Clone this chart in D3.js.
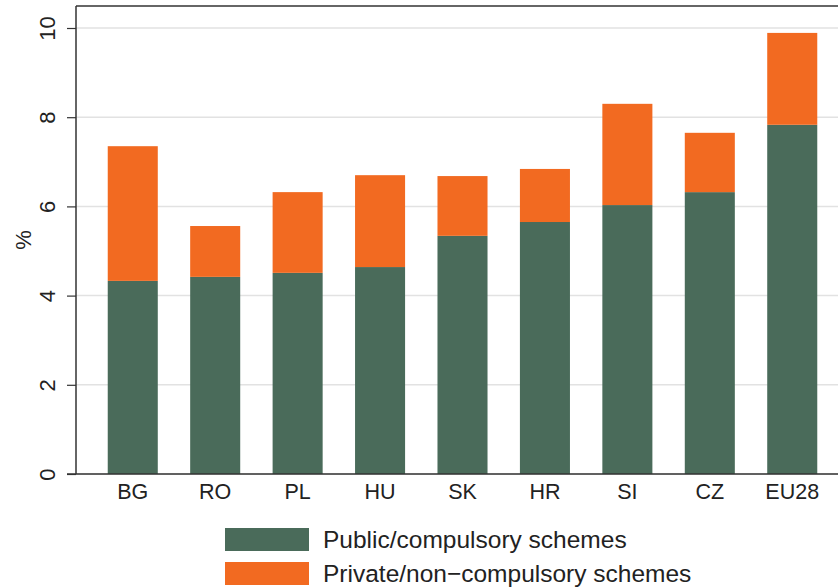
<!DOCTYPE html>
<html><head><meta charset="utf-8">
<script src="https://cdn.jsdelivr.net/npm/d3@7"></script>
<style>body{margin:0;background:#fff}svg{display:block}text{font-family:"Liberation Sans",Arial,Helvetica,sans-serif;fill:#222}</style>
</head><body>
<svg id="c" width="838" height="588"></svg>
<script>
const categories = ["BG","RO","PL","HU","SK","HR","SI","CZ","EU28"];
const publicValues = [4.33,4.42,4.51,4.64,5.34,5.65,6.03,6.32,7.83];
const totalValues = [7.35,5.56,6.32,6.70,6.68,6.84,8.30,7.65,9.89];
const privateValues = totalValues.map((t,i)=>+(t-publicValues[i]).toFixed(2));
const yTicks = [0,2,4,6,8,10];
const seriesNames = ["Public/compulsory schemes","Private/non\u2212compulsory schemes"];
const colors = ["#4a6b5a","#f26a21"];

const svg = d3.select("#c");
const plotLeft = 76, plotRight = 849, plotTop = 6;
const x = d3.scaleBand().domain(categories).range([plotLeft,plotRight]).paddingInner(0.393).paddingOuter(0.385);
const y = d3.scaleLinear().domain([0,10]).range([474,28]);

// gridlines
svg.append("g").selectAll("line").data(yTicks).join("line")
  .attr("x1",plotLeft).attr("x2",838).attr("y1",d=>y(d)).attr("y2",d=>y(d))
  .attr("stroke","#e2e2e2").attr("stroke-width",1.5);

// stacked bars
const rows = categories.map((c,i)=>({cat:c,pub:publicValues[i],priv:privateValues[i]}));
const stack = d3.stack().keys(["pub","priv"])(rows);
svg.append("g").selectAll("g").data(stack).join("g").attr("fill",(d,i)=>colors[i])
  .selectAll("rect").data(d=>d).join("rect")
  .attr("x",d=>x(d.data.cat)).attr("width",x.bandwidth())
  .attr("y",d=>y(d[1])).attr("height",d=>y(d[0])-y(d[1]));

// frame top
svg.append("line").attr("x1",plotLeft).attr("x2",838).attr("y1",plotTop).attr("y2",plotTop).attr("stroke","#333").attr("stroke-width",1.5);

// y axis
const ya = svg.append("g").attr("transform",`translate(${plotLeft},0)`)
  .call(d3.axisLeft(y).tickValues(yTicks).tickSize(9).tickFormat(d3.format("d")));
ya.select(".domain").remove();
ya.append("line").attr("x1",0).attr("x2",0).attr("y1",plotTop).attr("y2",474).attr("stroke","#333").attr("stroke-width",1.5);
ya.selectAll(".tick line").attr("stroke","#333").attr("stroke-width",1.2);
ya.selectAll(".tick text").attr("font-size",22).attr("fill","#222")
  .attr("transform","translate(-21,0) rotate(-90)").attr("x",0).attr("y",0).attr("dy",0)
  .attr("text-anchor","middle");

// x axis
const xa = svg.append("g").attr("transform","translate(0,474)")
  .call(d3.axisBottom(x).tickSize(0));
xa.select(".domain").remove();
xa.append("line").attr("x1",67).attr("x2",838).attr("y1",0).attr("y2",0).attr("stroke","#333").attr("stroke-width",1.5);
xa.selectAll(".tick text").attr("font-size",21.5).attr("fill","#222").attr("dy",0).attr("y",25);

// y title
svg.append("text").attr("transform","translate(31,240) rotate(-90)").attr("text-anchor","middle")
  .attr("font-size",22).text("%");

// legend
const lg = svg.append("g").selectAll("g").data(seriesNames).join("g")
  .attr("transform",(d,i)=>`translate(225,${528+i*34})`);
lg.append("rect").attr("width",84).attr("height",23).attr("fill",(d,i)=>colors[i]);
lg.append("text").attr("x",98).attr("y",20).attr("font-size",24.5).text(d=>d);
</script>
</body></html>
